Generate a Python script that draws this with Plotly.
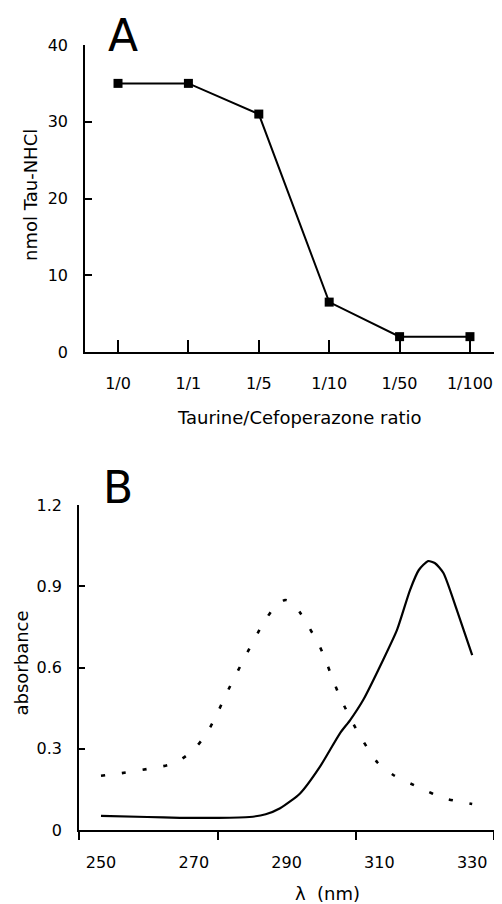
import plotly.graph_objects as go

# ---------- Panel A data ----------
ratio_labels = ["1/0", "1/1", "1/5", "1/10", "1/50", "1/100"]
tau_nhcl = [35, 35, 31, 6.5, 2, 2]
a_yticks = [0, 10, 20, 30, 40]

# ---------- Panel B data ----------
dotted_nm = [250, 254.5, 259.9, 264.5, 267, 269.9, 272.5, 274.5, 277.1, 281.5, 285,
             287.5, 289.7, 291.5, 293, 297.2, 301.5, 305.4, 309.5, 313, 318.8, 323.8, 330]
dotted_abs = [0.20, 0.21, 0.225, 0.24, 0.258, 0.295, 0.35, 0.41, 0.506, 0.654, 0.764,
              0.825, 0.849, 0.835, 0.80, 0.676, 0.491, 0.36, 0.251, 0.203, 0.155, 0.118, 0.096]
solid_nm = [250, 260, 267, 275, 282, 285.5, 288.6, 292.9, 297.2, 301.5, 303.7, 306.5,
            310.8, 313.8, 316.6, 318.5, 320.5, 322, 323.8, 326.7, 330]
solid_abs = [0.052, 0.048, 0.045, 0.045, 0.048, 0.058, 0.08, 0.135, 0.234, 0.357, 0.406, 0.48,
             0.628, 0.739, 0.886, 0.96, 0.993, 0.985, 0.949, 0.812, 0.646]
b_xticks = [250, 270, 290, 310, 330]
b_xtickmarks = [245.26, 275.2, 305.0, 334.7]
b_yticks = [0, 0.3, 0.6, 0.9, 1.2]
b_ytext = ["0", "0.3", "0.6", "0.9", "1.2"]

# page body has an 8px margin: figure is drawn from (8, 8)
OFF = 8
W, H = 502 - OFF, 904 - OFF
FONT = "DejaVu Sans"

def px_x(p):
    return (p - OFF) / W

def px_y(p):
    return 1 - (p - OFF) / H

fig = go.Figure()

fig.add_trace(go.Scatter(
    x=ratio_labels, y=tau_nhcl, mode="lines+markers",
    line=dict(color="black", width=2),
    marker=dict(symbol="square", size=9, color="black"),
    xaxis="x", yaxis="y", showlegend=False, cliponaxis=False))

fig.add_trace(go.Scatter(
    x=dotted_nm, y=dotted_abs, mode="lines",
    line=dict(color="black", width=2.6, dash="4px,17px", shape="spline", smoothing=0.6),
    xaxis="x2", yaxis="y2", showlegend=False))

fig.add_trace(go.Scatter(
    x=solid_nm, y=solid_abs, mode="lines",
    line=dict(color="black", width=2.2, shape="spline", smoothing=0.6),
    xaxis="x2", yaxis="y2", showlegend=False))

axis_common = dict(showgrid=False, zeroline=False, showline=True, linecolor="black",
                   linewidth=1.6, tickcolor="black", tickwidth=1.6, automargin=False,
                   tickfont=dict(family=FONT, size=16, color="black"))

fig.update_layout(
    template="none",
    width=W, height=H,
    margin=dict(l=0, r=0, t=0, b=0, pad=0),
    paper_bgcolor="white", plot_bgcolor="white",
    font=dict(family=FONT, color="black"),
    xaxis=dict(axis_common, type="category", domain=[px_x(85), 1.0],
               range=[-0.469, 5.455], anchor="y",
               ticks="inside", ticklen=12, ticklabelstandoff=16),
    yaxis=dict(axis_common, domain=[px_y(352), px_y(45)], range=[0, 40], anchor="x",
               tickvals=a_yticks, ticks="inside", ticklen=7, ticklabelstandoff=12),
    xaxis2=dict(axis_common, domain=[px_x(79), px_x(494)], range=[245.26, 334.7],
                anchor="y2", tickvals=b_xticks, ticks="outside", ticklen=17,
                tickcolor="rgba(0,0,0,0)",
                minor=dict(tickmode="array", tickvals=b_xtickmarks, ticks="outside",
                           ticklen=8, tickwidth=1.8, tickcolor="black")),
    yaxis2=dict(axis_common, domain=[px_y(830), px_y(505)], range=[0, 1.2], anchor="x2",
                tickvals=b_yticks, ticktext=b_ytext, ticks="inside", ticklen=6,
                ticklabelstandoff=12),
)

annots = [
    dict(text="A", x=px_x(123), y=1.0, size=44, ya="top"),
    dict(text="B", x=px_x(118), y=px_y(487), size=44),
    dict(text="Taurine/Cefoperazone ratio", x=px_x(299), y=px_y(417), size=18),
    dict(text="λ  (nm)", x=px_x(327), y=px_y(893), size=18),
    dict(text="nmol Tau-NHCl", x=px_x(30), y=px_y(195), size=18, angle=-90),
    dict(text="absorbance", x=0.0, y=px_y(663), size=18, angle=-90, xa="left"),
]
for a in annots:
    fig.add_annotation(text=a["text"], x=a["x"], y=a["y"], xref="paper", yref="paper",
                       xanchor=a.get("xa", "center"), yanchor=a.get("ya", "middle"),
                       showarrow=False, textangle=a.get("angle", 0),
                       font=dict(family=FONT, size=a["size"], color="black"))

fig.write_html("out.html")
